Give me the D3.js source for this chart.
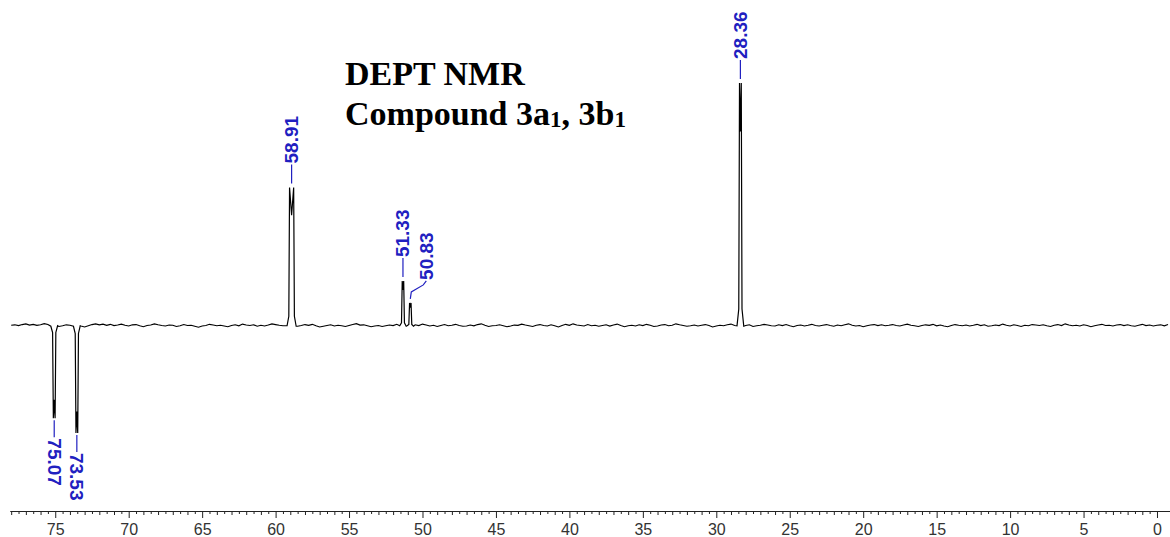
<!DOCTYPE html>
<html><head><meta charset="utf-8">
<script src="https://cdn.jsdelivr.net/npm/d3@7"></script>
<style>body{margin:0;background:#fff}svg{display:block}</style>
</head><body>
<svg id="c" width="1170" height="537"></svg>
<script>
// ---- data ----
const peakPpm    = [75.07, 73.53, 58.91, 51.33, 50.83, 28.36];
const peakHeight = [-38, -44, 57, 18.5, 9.5, 100];
const peakSplit  = [0.12, 0.12, 0.28, 0.10, 0.10, 0.12];
const peakLabels = ["75.07", "73.53", "58.91", "51.33", "50.83", "28.36"];
const noiseStart = 78, noiseStep = 0.25;
const noise = [
 0.3,0.5,0.2,0.6,0.9,0.4,0.7,0.3,0.5,1.0,0.6,0.2,0.4,-0.2,0.1,0.5,0.3,-0.3,0.2,0.0,
 -0.4,0.1,0.6,0.9,0.5,0.8,0.3,0.7,0.2,0.4,0.8,0.3,0.0,0.5,0.6,0.1,-0.3,0.2,0.4,0.9,
 0.5,0.2,0.0,0.4,0.3,-0.2,0.1,0.6,0.2,0.3,-0.1,-0.5,0.0,0.2,0.7,0.4,0.1,0.3,0.0,-0.3,
 0.2,0.5,0.1,0.8,0.4,0.2,0.5,-0.1,0.3,0.0,0.4,0.9,0.6,0.3,0.1,-0.2,0.0,0.3,-0.1,0.2,
 0.6,0.3,0.7,0.1,-0.4,-0.1,0.2,0.5,0.0,0.3,0.1,-0.2,0.2,0.6,1.0,0.4,0.5,0.1,-0.3,0.0,
 0.2,-0.2,0.1,0.4,0.2,0.7,0.3,0.0,-0.4,0.1,0.5,0.2,0.8,0.4,0.0,0.3,-0.2,0.2,0.6,0.1,
 0.3,0.7,0.2,-0.1,0.0,0.4,0.1,0.6,0.9,0.3,-0.2,0.1,0.2,0.5,0.1,-0.3,0.0,0.4,0.3,0.8,
 0.4,0.1,-0.2,0.3,0.6,0.2,0.0,0.5,0.1,-0.4,0.2,0.7,0.3,0.9,0.4,0.2,0.0,0.6,0.1,0.3,
 -0.1,0.2,0.5,0.0,0.4,0.8,0.2,-0.3,0.1,0.3,0.0,0.5,0.2,0.7,0.3,-0.2,0.0,0.4,0.6,0.1,
 0.3,0.9,0.5,0.2,-0.1,0.1,0.4,0.0,0.3,0.6,0.2,-0.4,0.0,0.3,0.1,0.5,0.8,0.2,0.4,0.0,
 0.2,0.5,-0.2,0.1,0.3,0.7,0.4,0.1,0.0,0.5,0.2,0.6,0.1,-0.3,0.2,0.4,0.0,0.3,0.7,0.2,
 0.0,0.3,0.6,0.2,-0.1,0.4,0.1,0.5,0.9,0.3,0.0,0.2,-0.3,0.1,0.4,0.6,0.2,0.5,0.1,0.3,
 0.6,0.2,0.0,0.4,0.8,0.3,0.1,-0.2,0.2,0.5,0.3,0.7,0.1,0.4,0.0,-0.3,0.2,0.6,0.3,0.1,
 0.4,0.0,0.3,0.7,0.2,0.5,-0.1,0.1,0.4,0.2,0.8,0.3,0.0,0.5,0.2,-0.2,0.3,0.1,0.6,0.4,
 0.2,0.5,0.1,-0.2,0.3,0.6,0.2,0.9,0.4,0.1,0.3,0.0,0.5,0.2,-0.3,0.1,0.4,0.7,0.2,0.3,
 0.0,0.4,0.6,0.2,0.5,0.1,-0.1,0.3,0.7,0.2,0.4,0.0,0.3,0.5,0.1,0.6,0.2,-0.2,0.3,0.1
];
const majorTicks = [75, 70, 65, 60, 55, 50, 45, 40, 35, 30, 25, 20, 15, 10, 5, 0];
const titleLine1 = "DEPT NMR";
const titleLine2 = ["Compound 3a", "1", ", 3b", "1"];

// ---- drawing ----
const svg = d3.select("#c");
const x = d3.scaleLinear().domain([78.08, -0.885]).range([10, 1170]);
const y = d3.scaleLinear().domain([0, 100]).range([325, 82]);

// build trace
let pts = [];
noise.forEach((v, i) => {
  const p = noiseStart - i * noiseStep;
  if (p < -0.885 || p > 78.08) return;
  const near = peakPpm.some((pp, k) => Math.abs(p - pp) < peakSplit[k] / 2 + 0.22);
  if (!near) pts.push([p, v]);
});
peakPpm.forEach((p, k) => {
  const h = peakHeight[k], s = peakSplit[k] / 2;
  pts.push([p + s + 0.17, 0.1 * Math.sign(h)]);
  pts.push([p + s + 0.05, 0.07 * h]);
  pts.push([p + s, h]);
  pts.push([p, 0.8 * h]);
  pts.push([p - s, h]);
  pts.push([p - s - 0.05, 0.07 * h]);
  pts.push([p - s - 0.17, -0.1 * Math.sign(h)]);
});
pts.sort((a, b) => b[0] - a[0]);

svg.append("path")
  .attr("d", d3.line().x(d => x(d[0])).y(d => y(d[1]) + 1)(pts))
  .attr("fill", "none").attr("stroke", "#000").attr("stroke-width", 1.2)
  .attr("stroke-linejoin", "miter");

// axis
const minorTicks = d3.range(0, 157).map(i => 78 - i * 0.5).filter(v => v % 5 !== 0 && v >= -0.5);
const gMinor = svg.append("g").attr("transform", "translate(0,511)")
  .call(d3.axisBottom(x).tickValues(minorTicks).tickSize(3).tickSizeOuter(0).tickFormat(""));
const gMajor = svg.append("g").attr("transform", "translate(0,511)")
  .call(d3.axisBottom(x).tickValues(majorTicks).tickSize(7).tickSizeOuter(0).tickPadding(6).tickFormat(d3.format("d")));
[gMinor, gMajor].forEach(g => {
  g.selectAll("path,line").attr("stroke", "#222").attr("stroke-width", 1);
});
gMinor.selectAll("line").filter(d => Number.isInteger(d)).attr("y2", 4);
gMajor.selectAll("text").attr("font-family", "'Liberation Sans', Arial, sans-serif")
  .attr("font-size", 16).attr("fill", "#333");

// peak labels
const blue = "#2020c0";
const lab = svg.append("g").attr("font-family", "'Liberation Sans', Arial, sans-serif")
  .attr("font-size", 19).attr("font-weight", "bold").attr("fill", blue);
peakPpm.forEach((p, k) => {
  const px = x(p), h = peakHeight[k], py = y(h);
  if (h < 0) {
    svg.append("line").attr("x1", px).attr("x2", px).attr("y1", py + 3).attr("y2", py + 20)
      .attr("stroke", blue).attr("stroke-width", 1.2);
    lab.append("text").attr("transform", `translate(${px},${py + 21}) rotate(90)`)
      .attr("dominant-baseline", "central").attr("text-anchor", "start").text(peakLabels[k]);
  } else if (peakLabels[k] === "50.83") {
    const pts2 = [[px, py - 3], [px + 1, py - 10], [px + 13, py - 17], [px + 16, py - 21]];
    svg.append("path").attr("d", d3.line()(pts2)).attr("fill", "none")
      .attr("stroke", blue).attr("stroke-width", 1.2);
    lab.append("text").attr("transform", `translate(${px + 16},${py - 22}) rotate(-90)`)
      .attr("dominant-baseline", "central").attr("text-anchor", "start").text(peakLabels[k]);
  } else {
    svg.append("line").attr("x1", px).attr("x2", px).attr("y1", py - 3).attr("y2", py - 22)
      .attr("stroke", blue).attr("stroke-width", 1.2);
    lab.append("text").attr("transform", `translate(${px},${py - 23}) rotate(-90)`)
      .attr("dominant-baseline", "central").attr("text-anchor", "start").text(peakLabels[k]);
  }
});

// title
const tg = svg.append("g").attr("font-family", "'Liberation Serif', 'Times New Roman', serif")
  .attr("font-weight", "bold").attr("font-size", 34).attr("fill", "#000");
tg.append("text").attr("x", 345).attr("y", 85).text(titleLine1);
const t2 = tg.append("text").attr("x", 345).attr("y", 125);
t2.append("tspan").text(titleLine2[0]);
t2.append("tspan").attr("font-size", 23).attr("dy", 2).text(titleLine2[1]);
t2.append("tspan").attr("dy", -2).text(titleLine2[2]);
t2.append("tspan").attr("font-size", 23).attr("dy", 2).text(titleLine2[3]);
</script>
</body></html>
